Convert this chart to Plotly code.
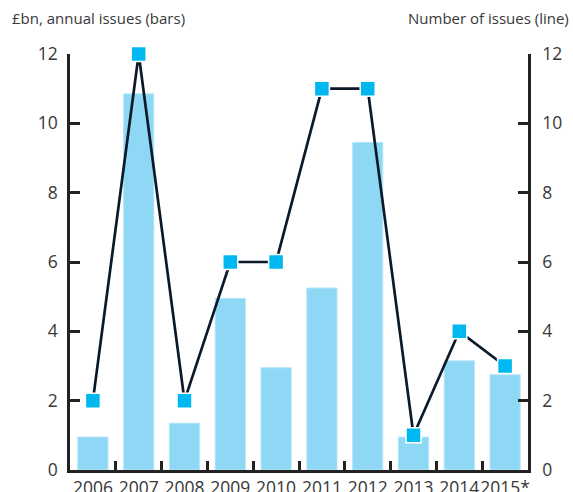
import plotly.graph_objects as go

years = ["2006", "2007", "2008", "2009", "2010", "2011", "2012", "2013", "2014", "2015*"]
issue_value_bn = [0.95, 10.85, 1.35, 4.95, 2.95, 5.25, 9.45, 0.95, 3.15, 2.75]
issue_count = [2, 12, 2, 6, 6, 11, 11, 1, 4, 3]
y_ticks = [0, 2, 4, 6, 8, 10, 12]

fig = go.Figure()
fig.add_trace(go.Bar(
    x=years, y=issue_value_bn, marker=dict(color="#8fd8f5", line=dict(color="#b5e6f9", width=1)),
    width=0.66, yaxis="y", name="bars"))
fig.add_trace(go.Scatter(
    x=years, y=issue_count, mode="lines+markers", yaxis="y2", cliponaxis=False,
    line=dict(color="#0b1a29", width=2.7),
    marker=dict(symbol="square", size=15, color="#00b8f0", line=dict(color="white", width=1.5)),
    name="line"))

font = dict(family="Open Sans, Noto Sans, sans-serif", size=17.5, color="#383838")
tfont = dict(family="Open Sans, Noto Sans, sans-serif", size=15, color="#383838")
axcol = "#222222"
fig.update_layout(
    width=573, height=492, showlegend=False,
    margin=dict(l=70, r=45, t=54, b=22, autoexpand=False),
    paper_bgcolor="white", plot_bgcolor="white", font=font,
    xaxis=dict(type="category", range=[-0.5, len(years) - 0.5], tickson="boundaries",
               ticks="inside", ticklen=9, tickwidth=2.5,
               tickcolor=axcol, showline=True, linecolor=axcol, linewidth=2.5, showgrid=False,
               zeroline=False, tickfont=font, tickangle=0, automargin=False),
    yaxis=dict(range=[0, 12], tickvals=y_ticks, ticks="inside", ticklen=10, tickwidth=2.5,
               tickcolor=axcol, showline=True, linecolor=axcol, linewidth=2.5, showgrid=False,
               zeroline=False, ticklabelstandoff=6, tickfont=font, automargin=False),
    yaxis2=dict(range=[0, 12], tickvals=y_ticks, ticks="inside", ticklen=10, tickwidth=2.5,
                tickcolor=axcol, showline=True, linecolor=axcol, linewidth=2.5, showgrid=False,
                zeroline=False, overlaying="y", side="right", ticklabelstandoff=8, tickfont=font,
                automargin=False),
    annotations=[
        dict(text="£bn, annual issues (bars)", xref="paper", yref="paper", x=-0.131, y=1.0865,
             xanchor="left", yanchor="middle", showarrow=False, font=tfont),
        dict(text="Number of issues (line)", xref="paper", yref="paper", x=1.094, y=1.0865,
             xanchor="right", yanchor="middle", showarrow=False, font=tfont),
    ],
)
fig.write_html("out.html", config={"displayModeBar": False},
               post_script="document.body.style.margin='0';document.body.style.overflow='hidden';")
